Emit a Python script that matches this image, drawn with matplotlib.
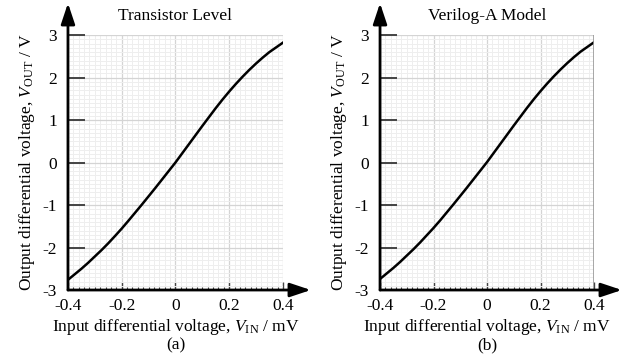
import numpy as np
import matplotlib.pyplot as plt
from matplotlib.ticker import MultipleLocator

plt.rcParams['font.family'] = ['Liberation Serif', 'DejaVu Serif']
plt.rcParams['mathtext.fontset'] = 'custom'
plt.rcParams['mathtext.rm'] = 'Liberation Serif'
plt.rcParams['mathtext.it'] = 'Liberation Serif:italic'
plt.rcParams['axes.unicode_minus'] = False

# input voltage (mV) and output voltage (V)
vin = [-0.4, -0.375, -0.35, -0.325, -0.3, -0.275, -0.25, -0.225, -0.2,
       -0.175, -0.15, -0.125, -0.1, -0.075, -0.05, -0.025, 0.0,
       0.025, 0.05, 0.075, 0.1, 0.125, 0.15, 0.175, 0.2,
       0.225, 0.25, 0.275, 0.3, 0.325, 0.35, 0.375, 0.4]
vout_transistor = [-2.76, -2.63, -2.5, -2.36, -2.21, -2.06, -1.9, -1.73, -1.555,
                   -1.37, -1.18, -0.99, -0.795, -0.6, -0.4, -0.2, 0.0,
                   0.215, 0.43, 0.645, 0.86, 1.07, 1.28, 1.48, 1.67,
                   1.85, 2.02, 2.18, 2.33, 2.47, 2.6, 2.71, 2.82]
vout_verilog = [-2.74, -2.61, -2.48, -2.34, -2.19, -2.04, -1.88, -1.71, -1.54,
                -1.36, -1.17, -0.98, -0.785, -0.59, -0.39, -0.19, 0.01,
                0.225, 0.44, 0.655, 0.87, 1.08, 1.29, 1.49, 1.68,
                1.86, 2.03, 2.19, 2.34, 2.48, 2.61, 2.72, 2.83]

titles = ['Transistor Level', 'Verilog-A Model']
tags = ['(a)', '(b)']
xticks = [-0.4, -0.2, 0, 0.2, 0.4]
xticklabels = ['-0.4', '-0.2', '0', '0.2', '0.4']
yticks = [-3, -2, -1, 0, 1, 2, 3]

fig = plt.figure(figsize=(6.23, 3.6), dpi=100)
panels = [fig.add_axes([0.1091, 0.1944, 0.345, 0.7083]),
          fig.add_axes([0.61, 0.1944, 0.3435, 0.7083])]

for ax, y, title, tag in zip(panels, [vout_transistor, vout_verilog], titles, tags):
    ax.plot(vin, y, color='black', lw=1.8)
    ax.set_xlim(-0.4, 0.4)
    ax.set_ylim(-3, 3)
    ax.set_xticks(xticks)
    ax.set_xticklabels(xticklabels)
    ax.set_yticks(yticks)
    ax.xaxis.set_minor_locator(MultipleLocator(0.02))
    ax.yaxis.set_minor_locator(MultipleLocator(0.1))
    ax.grid(which='major', color='#d4d4d4', lw=0.9)
    ax.grid(which='minor', color='#eeeeee', lw=0.7)
    ax.set_axisbelow(True)
    for s in ['top', 'right', 'left', 'bottom']:
        ax.spines[s].set_visible(False)
    ax.tick_params(axis='y', direction='in', length=12, width=1.4, color='#444',
                   labelsize=12.5, pad=8)
    ax.tick_params(axis='x', direction='in', length=6, width=1, color='#444',
                   labelsize=12.5, pad=6)
    ax.tick_params(axis='y', which='minor', length=0)
    ax.tick_params(axis='x', which='minor', direction='in', length=2.5,
                   width=0.8, color='#444')
    # axes with arrows
    ax.annotate('', xy=(0, 1.125), xycoords='axes fraction', xytext=(0, 0),
                arrowprops=dict(arrowstyle='-|>,head_length=0.9,head_width=0.3',
                                color='black', lw=2, mutation_scale=14,
                                shrinkA=0, shrinkB=0))
    ax.annotate('', xy=(1.13, 0), xycoords='axes fraction', xytext=(0, 0),
                arrowprops=dict(arrowstyle='-|>,head_length=0.9,head_width=0.3',
                                color='black', lw=2, mutation_scale=14,
                                shrinkA=0, shrinkB=0))
    ax.set_title(title, fontsize=12.5, pad=11)
    ax.set_ylabel(r'Output differential voltage, $V_{\mathrm{OUT}}$ / V',
                  fontsize=12.5, labelpad=4)
    ax.set_xlabel('Input differential voltage, $V_{\\mathrm{IN}}$ / mV\n' + tag,
                  fontsize=12.5, labelpad=2, linespacing=1.05)

panels[1].axvline(0.4, color='#999999', lw=1.2)

fig.savefig('out.png', dpi=100)
